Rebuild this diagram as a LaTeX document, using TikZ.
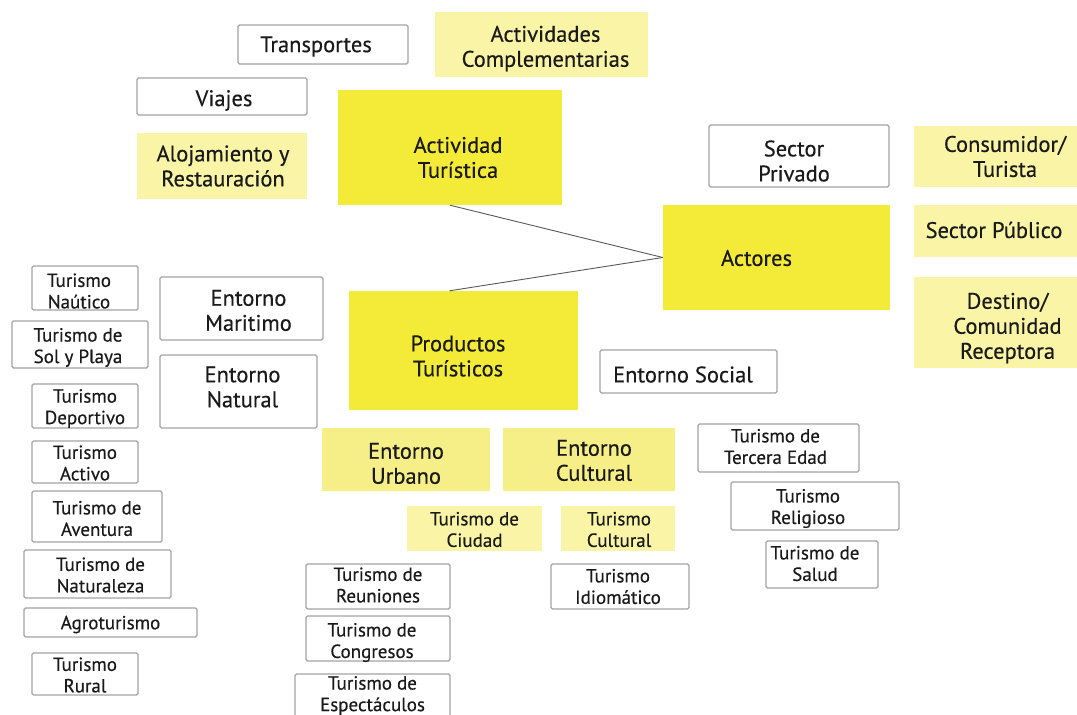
\documentclass[tikz,border=0pt]{standalone}
\usepackage{fontspec}
\setmainfont{PT Sans}[FakeBold=0.4]
\definecolor{bright}{HTML}{F3EB37}
\definecolor{pale}{HTML}{F9F4A6}
\definecolor{mid}{HTML}{F6EF88}
\definecolor{bgray}{HTML}{A3A3A3}
\definecolor{txt}{HTML}{1A1A1A}
% \bx{box style}{name}{cx}{cy}{w}{h}{text style}{dx,dy}{text}
\newcommand\bx[9]{%
  \node[#1,minimum width=#5,minimum height=#6] (#2) at (#3,#4) {};
  \node[#7] (#2t) at ([shift={(#8)}]#2.center) {#9};}
\begin{document}
\begin{tikzpicture}[x=1pt,y=-1pt,
  base/.style={align=center, inner sep=0pt, text=txt, anchor=center},
  big/.style={base, font=\fontsize{22.5}{25}\selectfont},
  sml/.style={base, font=\fontsize{19}{21.5}\selectfont},
  shp/.style={inner sep=0pt, anchor=center},
  wbox/.style={shp, draw=bgray, line width=1.2pt, rounded corners=1.5pt, fill=white},
  pbox/.style={shp, fill=pale},
  mbox/.style={shp, fill=mid},
  ybox/.style={shp, fill=bright},
  conn/.style={draw=black!65, line width=0.9pt}]
\useasboundingbox (0,0) rectangle (1077,715);
% top-left group
\bx{wbox}{trans}{323}{44.5}{170}{39}{big}{-7,2}{Transportes}
\bx{pbox}{actcomp}{541.5}{44.5}{213}{65}{big}{4,4}{Actividades\\Complementarias}
\bx{wbox}{viajes}{222}{96.5}{170}{37}{big}{2,4}{Viajes}
\bx{pbox}{aloj}{222}{166}{170}{66}{big}{1,0}{Alojamiento y\\Restauración}
\bx{ybox}{actur}{450}{147.5}{224}{115}{big}{8,10}{Actividad\\Turística}
% right group
\bx{wbox}{spriv}{799}{156}{180}{62}{big}{-5,5}{Sector\\Privado}
\bx{pbox}{cons}{999}{156.5}{170}{61}{big}{6,0}{Consumidor/\\Turista}
\bx{ybox}{actores}{776.5}{257.5}{227}{105}{big}{-20,0.5}{Actores}
\bx{pbox}{spub}{999}{231}{170}{52}{big}{-5,-1}{Sector Público}
\bx{pbox}{dest}{999}{322.5}{170}{91}{big}{8.5,5.5}{Destino/\\Comunidad\\Receptora}
\bx{wbox}{esoc}{688.5}{371.5}{177}{43}{big}{-5.5,3}{Entorno Social}
% productos
\bx{ybox}{prod}{463.5}{350.5}{229}{119}{big}{-5.5,5.5}{Productos\\Turísticos}
% connectors
\draw[conn] (actur.south) -- (actores.west);
\draw[conn] (actores.west) -- ([xshift=-14pt]prod.north);
% left column
\bx{wbox}{tnau}{85}{288}{106}{44}{sml}{-6,3}{Turismo\\Naútico}
\bx{wbox}{tsol}{80}{344.5}{136}{47}{sml}{-2,3}{Turismo de\\Sol y Playa}
\bx{wbox}{tdep}{85}{406}{106}{44}{sml}{0,2.5}{Turismo\\Deportivo}
\bx{wbox}{tact}{85}{462}{106}{42}{sml}{0,1}{Turismo\\Activo}
\bx{wbox}{tave}{97}{516.5}{130}{51}{sml}{0,2}{Turismo de\\Aventura}
\bx{wbox}{tnat}{97.5}{574}{147}{48}{sml}{3,1}{Turismo de\\Naturaleza}
\bx{wbox}{agro}{110.5}{622.5}{173}{29}{sml}{0,2}{Agroturismo}
\bx{wbox}{trur}{85}{674}{106}{42}{sml}{0,1}{Turismo\\Rural}
\bx{wbox}{emar}{241.5}{308.5}{163}{63}{big}{7,2}{Entorno\\Maritimo}
\bx{wbox}{enat}{238.5}{391.5}{157}{73}{big}{4,-4.5}{Entorno\\Natural}
% bottom
\bx{mbox}{eurb}{406}{459.5}{168}{63}{big}{0,4}{Entorno\\Urbano}
\bx{mbox}{ecul}{589}{459.5}{172}{63}{big}{5,1}{Entorno\\Cultural}
\bx{pbox}{tciu}{474.5}{528.5}{135}{45}{sml}{0,1}{Turismo de\\Ciudad}
\bx{pbox}{tcul}{618}{528.5}{114}{45}{sml}{1,1}{Turismo\\Cultural}
\bx{wbox}{treu}{378}{586.5}{144}{45}{sml}{0,-1.5}{Turismo de\\Reuniones}
\bx{wbox}{tcon}{378}{638.5}{144}{45}{sml}{-6,4}{Turismo de\\Congresos}
\bx{wbox}{tesp}{372.5}{699}{155}{50}{sml}{0,-3.5}{Turismo de\\Espectáculos}
\bx{wbox}{tidi}{620}{586.5}{138}{45}{sml}{-2,0}{Turismo\\Idiomático}
\bx{wbox}{tter}{778.5}{448}{161}{48}{sml}{-3,-1.5}{Turismo de\\Tercera Edad}
\bx{wbox}{trel}{815}{506}{168}{48}{sml}{-7,2.5}{Turismo\\Religioso}
\bx{wbox}{tsal}{822}{564.5}{112}{47}{sml}{-7,-1}{Turismo de\\Salud}
\end{tikzpicture}
\end{document}
